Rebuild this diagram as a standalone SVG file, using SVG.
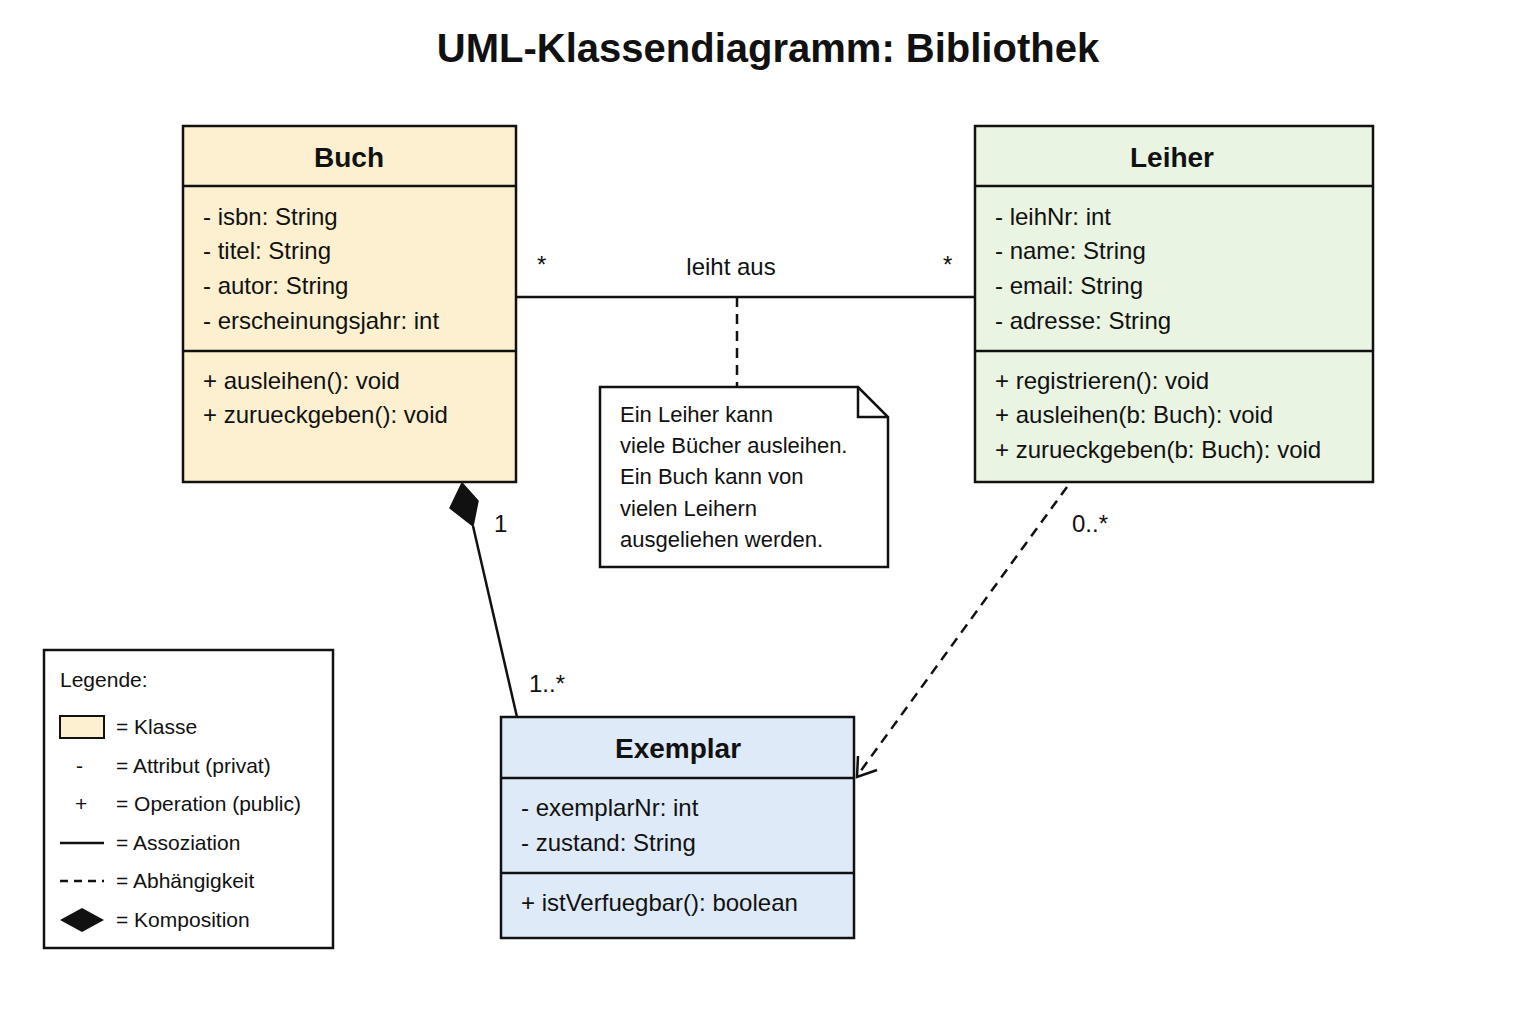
<svg xmlns="http://www.w3.org/2000/svg" width="1536" height="1024" viewBox="0 0 1536 1024">
<style>
text{font-family:"Liberation Sans",Arial,sans-serif;fill:#111}
.box{stroke:#111;stroke-width:2.5}
.h{font-size:28px;font-weight:bold;text-anchor:middle}
.a{font-size:24px}
.n{font-size:22px}
.l{font-size:21px}
.ln{stroke:#111;stroke-width:2.5;fill:none}
.d{stroke-dasharray:10 7}
</style>
<rect width="1536" height="1024" fill="#fff"/>
<text x="768" y="62" style="font-size:40px;font-weight:bold" text-anchor="middle">UML-Klassendiagramm: Bibliothek</text>
<g id="connectors">
<line class="ln" x1="516" y1="297" x2="975" y2="297"/>
<line class="ln d" x1="737" y1="297" x2="737" y2="387"/>
<line class="ln" x1="473" y1="526" x2="517" y2="717"/>
<polygon points="462,483 478,501 473,526 450,508" fill="#111" stroke="#111" stroke-width="1.5"/>
<line class="ln d" x1="1067" y1="487" x2="857" y2="776"/>
<polyline class="ln" points="858,756 857,777 877,770"/>
<text class="a" x="537" y="273">*</text>
<text class="a" x="943" y="273">*</text>
<text class="a" x="731" y="275" text-anchor="middle">leiht aus</text>
<text class="a" x="494" y="532">1</text>
<text class="a" x="529" y="692">1..*</text>
<text class="a" x="1072" y="532">0..*</text>
</g>
<g id="buch">
<rect class="box" x="183" y="126" width="333" height="356" fill="#fdf0d0"/>
<line class="box" x1="183" y1="186" x2="516" y2="186"/>
<line class="box" x1="183" y1="351" x2="516" y2="351"/>
<text class="h" x="349" y="167">Buch</text>
<text class="a" x="203" y="225">-  isbn: String</text>
<text class="a" x="203" y="259">-  titel: String</text>
<text class="a" x="203" y="294">-  autor: String</text>
<text class="a" x="203" y="329">-  erscheinungsjahr: int</text>
<text class="a" x="203" y="389">+ ausleihen(): void</text>
<text class="a" x="203" y="423">+ zurueckgeben(): void</text>
</g>
<g id="leiher">
<rect class="box" x="975" y="126" width="398" height="356" fill="#eaf4e2"/>
<line class="box" x1="975" y1="186" x2="1373" y2="186"/>
<line class="box" x1="975" y1="351" x2="1373" y2="351"/>
<text class="h" x="1172" y="167">Leiher</text>
<text class="a" x="995" y="225">-  leihNr: int</text>
<text class="a" x="995" y="259">-  name: String</text>
<text class="a" x="995" y="294">-  email: String</text>
<text class="a" x="995" y="329">-  adresse: String</text>
<text class="a" x="995" y="389">+ registrieren(): void</text>
<text class="a" x="995" y="423">+ ausleihen(b: Buch): void</text>
<text class="a" x="995" y="458">+ zurueckgeben(b: Buch): void</text>
</g>
<g id="exemplar">
<rect class="box" x="501" y="717" width="353" height="221" fill="#dfeaf8"/>
<line class="box" x1="501" y1="778" x2="854" y2="778"/>
<line class="box" x1="501" y1="873" x2="854" y2="873"/>
<text class="h" x="678" y="758">Exemplar</text>
<text class="a" x="521" y="816">-  exemplarNr: int</text>
<text class="a" x="521" y="851">-  zustand: String</text>
<text class="a" x="521" y="911">+ istVerfuegbar(): boolean</text>
</g>
<g id="note">
<path class="box" d="M600,387 H858 L888,417 V567 H600 Z" fill="#fff"/>
<path class="box" d="M858,387 V417 H888" fill="none"/>
<text class="n" x="620" y="422">Ein Leiher kann</text>
<text class="n" x="620" y="453">viele Bücher ausleihen.</text>
<text class="n" x="620" y="484">Ein Buch kann von</text>
<text class="n" x="620" y="516">vielen Leihern</text>
<text class="n" x="620" y="547">ausgeliehen werden.</text>
</g>
<g id="legend">
<rect class="box" x="44" y="650" width="289" height="298" fill="#fff"/>
<text class="l" x="60" y="687">Legende:</text>
<rect x="60" y="716" width="44" height="22" fill="#fdf0d0" stroke="#111" stroke-width="2"/>
<text class="l" x="116" y="734">=  Klasse</text>
<text class="l" x="76" y="773">-</text>
<text class="l" x="116" y="773">=  Attribut (privat)</text>
<text class="l" x="75" y="811">+</text>
<text class="l" x="116" y="811">=  Operation (public)</text>
<line class="ln" x1="60" y1="843" x2="104" y2="843"/>
<text class="l" x="116" y="850">=  Assoziation</text>
<line class="ln" x1="60" y1="881" x2="104" y2="881" stroke-dasharray="8 6"/>
<text class="l" x="116" y="888">=  Abhängigkeit</text>
<polygon points="60,920 82,908 104,920 82,932" fill="#111"/>
<text class="l" x="116" y="927">=  Komposition</text>
</g>
</svg>
